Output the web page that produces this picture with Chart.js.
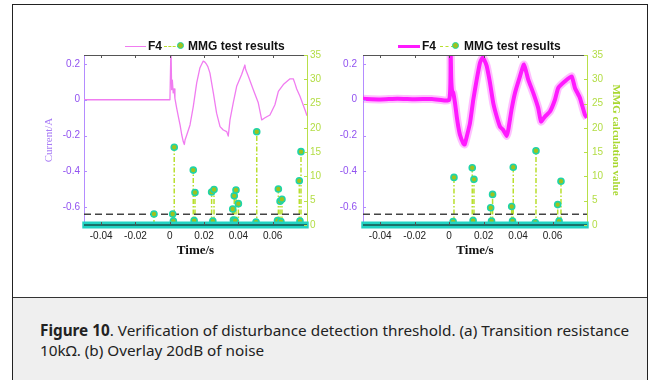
<!DOCTYPE html>
<html>
<head>
<meta charset="utf-8">
<script src="https://cdn.jsdelivr.net/npm/chart.js@4.4.0/dist/chart.umd.min.js"></script>
<style>
    html, body { margin: 0; padding: 0; background: #fff; }
    #fig { position: relative; width: 656px; height: 380px; overflow: hidden; background: #fff; }
    #box { position: absolute; left: 12px; top: 4px; width: 636px; height: 400px; border: 1.5px solid #222; box-sizing: border-box; }
    #cap { position: absolute; left: 0; top: 292px; right: 0; height: 120px; background: #efefef; border-top: 1px solid #333;
           font-family: "Noto Sans", sans-serif; font-size: 15.3px; line-height: 20px; color: #222; padding: 22px 6px 0 27px; box-sizing: border-box; }
    canvas { position: absolute; }
    #c1 { left: 14px; top: 30px; }
    #c2 { left: 334px; top: 30px; }
    .leg { position: absolute; height: 14px; font-family: "Liberation Sans", Arial, sans-serif; font-size: 12px; line-height: 14px; color: #111; white-space: nowrap; }
    .ln { position: absolute; top: 7px; height: 0; }
    .f4 { border-top: 1.5px solid #f07cf0; }
    .mmg { border-top: 1.5px dashed #b9df2e; }
    .dot { position: absolute; top: 3px; width: 5px; height: 5px; border-radius: 50%; background: #9fc21c; border: 1.5px solid #1fd4a8; }
    .tx { position: absolute; top: 0; font-weight: bold; }
</style>
</head>
<body>
<div id="fig">
    <div id="box">
        <div id="cap"><b>Figure 10</b>. Verification of disturbance detection threshold. (a) Transition resistance 10kΩ. (b) Overlay 20dB of noise</div>
    </div>
    <canvas id="c1" width="316" height="230"></canvas>
    <canvas id="c2" width="310" height="230"></canvas>

    <!-- legends -->
    <div class="leg" style="left:0;top:39px;width:330px;">
        <span class="ln f4" style="left:125px;width:21px;"></span><span class="tx" style="left:148px;font-weight:600;">F4</span>
        <span class="ln mmg" style="left:164px;width:16px;"></span><span class="dot" style="left:177px;"></span>
        <span class="tx" style="left:188px;">MMG test results</span>
    </div>
    <div class="leg" style="left:0;top:39px;width:656px;">
        <span class="ln f4" style="left:398px;width:22px;border-top:3px solid #ff1aff;top:6px;"></span><span class="tx" style="left:422px;font-weight:600;">F4</span>
        <span class="ln mmg" style="left:440px;width:14px;"></span><span class="dot" style="left:452px;"></span>
        <span class="tx" style="left:464px;">MMG test results</span>
    </div>
</div>

<script>
    // axis ticks
    const xTicks = [-0.04, -0.02, 0, 0.02, 0.04, 0.06];
    const xLabels = ['-0.04', '-0.02', '0', '0.02', '0.04', '0.06'];
    const yTicks = [0.2, 0, -0.2, -0.4, -0.6];
    const yLabels = ['0.2', '0', '-0.2', '-0.4', '-0.6'];
    const y2Ticks = [0, 5, 10, 15, 20, 25, 30, 35];
    const threshold = 2.2;

    // (a) F4 current, 10kOhm
    const tA = [-0.05, 0.0001, 0.0007, 0.0011, 0.0015, 0.002, 0.0025, 0.003, 0.004, 0.005, 0.006, 0.007, 0.0079, 0.0085,
        0.0089, 0.0099, 0.0118, 0.0137, 0.0157, 0.0176, 0.0195, 0.0205, 0.0215, 0.0222, 0.0234, 0.0254, 0.0273, 0.0293,
        0.0312, 0.0332, 0.0341, 0.0351, 0.037, 0.039, 0.0419, 0.0438, 0.0442, 0.0458, 0.0487, 0.0516, 0.0536, 0.0555,
        0.0584, 0.0613, 0.0633, 0.0662, 0.0701, 0.072, 0.073, 0.074, 0.0759, 0.0788, 0.08];
    const f4A = [0, 0, 0.3, 0.056, 0.11, 0.038, 0.06, 0.007, -0.045, -0.094, -0.141, -0.197, -0.235, -0.25,
        -0.225, -0.197, -0.141, -0.038, 0.094, 0.179, 0.216, 0.21, 0.197, 0.185, 0.15, 0.038, -0.075, -0.15,
        -0.169, -0.178, -0.203, -0.113, -0.017, 0.075, 0.141, 0.194, 0.17, 0.131, 0.056, -0.017, -0.113, -0.101,
        -0.085, -0.028, 0.047, 0.085, 0.117, 0.117, 0.09, 0.06, 0.019, -0.056, -0.09];
    const stemTA = [-0.0092, 0.0017, 0.0021, 0.0026, 0.0137, 0.0142, 0.0147, 0.0244, 0.0251, 0.0258, 0.0367, 0.0371,
        0.0376, 0.0381, 0.0386, 0.04, 0.0503, 0.0507, 0.0628, 0.0633, 0.0643, 0.0648, 0.0654, 0.0755, 0.0759, 0.0765];
    const stemVA = [2.25, 2.25, 0.8, 16.0, 11.3, 0.9, 6.7, 6.8, 0.8, 7.3, 3.3, 1.0,
        6.0, 0.9, 7.2, 4.4, 0.6, 19.2, 0.9, 7.4, 4.9, 0.7, 5.3, 9.1, 0.8, 15.1];

    // (b) F4 current with 20dB noise (band centre)
    const tB = [-0.05, -0.04, -0.03, -0.02, -0.01, 0.0,
        0.0008, 0.0012, 0.0017, 0.0024, 0.0034, 0.0044, 0.0053, 0.0063, 0.0082, 0.009, 0.0102, 0.0121, 0.014, 0.016,
        0.0179, 0.0194, 0.0205, 0.0218, 0.0237, 0.0256, 0.0276, 0.0295, 0.0314, 0.0334, 0.0343, 0.0362, 0.0382,
        0.0411, 0.0434, 0.0459, 0.0488, 0.0517, 0.0533, 0.0556, 0.0585, 0.0614, 0.0633, 0.0672, 0.0711, 0.073,
        0.0759, 0.0788, 0.08];
    const f4B = [0.005, 0.002, 0.006, 0.003, 0.004, 0.0,
        0.3, 0.12, 0.05, 0.038, -0.019, -0.094, -0.15, -0.197, -0.244, -0.25, -0.207, -0.13, 0.0, 0.113,
        0.207, 0.235, 0.22, 0.188, 0.094, -0.019, -0.094, -0.15, -0.169, -0.203, -0.169, -0.056, 0.038,
        0.131, 0.197, 0.113, 0.038, -0.047, -0.122, -0.094, -0.066, 0.0, 0.066, 0.103, 0.131, 0.066,
        0.01, -0.085, -0.1];
    const stemTB = [0.0023, 0.0028, 0.0134, 0.0139, 0.0144, 0.0241, 0.0246, 0.0252, 0.0363, 0.0368, 0.0372,
        0.05, 0.0504, 0.063, 0.0638, 0.0649];
    const stemVB = [0.7, 9.8, 11.8, 0.9, 9.4, 3.55, 0.8, 6.3, 3.8, 0.8, 11.9,
        0.5, 15.3, 4.2, 0.8, 9.0];

    function pares(ts, vs) {
        return ts.map(function (t, i) { return { x: t, y: vs[i] }; });
    }

    function tallos(ts, vs) {
        var out = [];
        ts.forEach(function (t, i) {
            out.push({ x: t, y: 0 }, { x: t, y: vs[i] }, { x: t, y: null });
        });
        return out;
    }

    // inward tick marks + top frame line, MATLAB style
    const marcoPlugin = {
        id: 'marco',
        afterDatasetsDraw: function (chart) {
            var ctx = chart.ctx, a = chart.chartArea, s = chart.scales;
            ctx.save();
            ctx.lineWidth = 1;
            ctx.strokeStyle = '#555';
            ctx.beginPath();
            ctx.moveTo(a.left, a.top + 0.5); ctx.lineTo(a.right, a.top + 0.5);
            xTicks.forEach(function (v) {
                var px = Math.round(s.x.getPixelForValue(v)) + 0.5;
                ctx.moveTo(px, a.top); ctx.lineTo(px, a.top + 3);
                ctx.moveTo(px, a.bottom); ctx.lineTo(px, a.bottom - 3);
            });
            ctx.stroke();
            ctx.strokeStyle = '#b48cff';
            ctx.beginPath();
            yTicks.forEach(function (v) {
                var py = Math.round(s.y.getPixelForValue(v)) + 0.5;
                ctx.moveTo(a.left, py); ctx.lineTo(a.left + 3, py);
            });
            ctx.stroke();
            ctx.strokeStyle = '#b8e04a';
            ctx.beginPath();
            y2Ticks.forEach(function (v) {
                var py = Math.round(s.y1.getPixelForValue(v)) + 0.5;
                ctx.moveTo(a.right, py); ctx.lineTo(a.right - 3, py);
            });
            ctx.stroke();
            ctx.restore();
        }
    };

    function crearGrafico(id, opts) {
        var ctx = document.getElementById(id).getContext('2d');
        var datasets = [
            {
                data: pares(opts.t, opts.f4), yAxisID: 'y', showLine: true, pointRadius: 0, tension: opts.tension,
                borderColor: opts.f4Color, borderWidth: opts.f4Width, borderJoinStyle: 'round', order: 0
            },
            {
                data: pares(opts.stemT, opts.stemV), yAxisID: 'y1', showLine: false, pointRadius: 3,
                pointBackgroundColor: '#9fc21c', pointBorderColor: '#1fd4a8', pointBorderWidth: 1.6, order: 3
            },
            {
                data: [{ x: -0.05, y: 0 }, { x: 0.08, y: 0 }], yAxisID: 'y1', showLine: true, pointRadius: 0,
                borderColor: '#111', borderWidth: 1, clip: 8, order: 1
            },
            {
                data: [{ x: -0.051, y: 0 }, { x: 0.081, y: 0 }], yAxisID: 'y1', showLine: true, pointRadius: 0,
                borderColor: '#22d3c3', borderWidth: 7, clip: 8, order: 2
            },
            {
                data: [{ x: -0.05, y: threshold }, { x: 0.08, y: threshold }], yAxisID: 'y1', showLine: true,
                pointRadius: 0, borderColor: '#444', borderWidth: 1.5, borderDash: [7, 4], order: 4
            },
            {
                data: tallos(opts.stemT, opts.stemV), yAxisID: 'y1', showLine: true, pointRadius: 0, spanGaps: false,
                borderColor: '#b9df2e', borderWidth: 1.5, borderDash: [5, 2, 1.5, 2], order: 5
            }
        ];
        // fuzzy halo for the noisy trace
        if (opts.halo) {
            datasets.push({
                data: pares(opts.t, opts.f4), yAxisID: 'y', showLine: true, pointRadius: 0, tension: opts.tension,
                borderColor: 'rgba(255, 40, 255, 0.3)', borderWidth: opts.halo, borderJoinStyle: 'round', order: 0.5
            });
        }

        return new Chart(ctx, {
            type: 'scatter',
            data: { datasets: datasets },
            plugins: [marcoPlugin],
            options: {
                responsive: false,
                animation: false,
                devicePixelRatio: 1,
                layout: { padding: opts.padding },
                plugins: { legend: { display: false }, tooltip: { enabled: false } },
                scales: {
                    x: {
                        type: 'linear', min: -0.05, max: 0.08,
                        afterBuildTicks: function (scale) { scale.ticks = xTicks.map(function (v) { return { value: v }; }); },
                        afterFit: function (scale) { scale.height = 35; },
                        ticks: {
                            callback: function (value, index) { return xLabels[index]; },
                            font: { family: 'Liberation Sans', size: 10 }, color: '#222', padding: 5, maxRotation: 0, autoSkip: false
                        },
                        grid: { display: true, drawOnChartArea: false, drawTicks: false },
                        border: { display: false },
                        title: {
                            display: true, text: 'Time/s', color: '#111', padding: { top: 0, bottom: 2 },
                            font: { family: 'Liberation Serif', size: 13, weight: 'bold' }
                        }
                    },
                    y: {
                        type: 'linear', position: 'left', min: -0.7, max: 0.25,
                        afterBuildTicks: function (scale) { scale.ticks = yTicks.map(function (v) { return { value: v }; }); },
                        afterFit: function (scale) { scale.width = opts.leftWidth; },
                        ticks: {
                            callback: function (value, index) { return yLabels[index]; },
                            font: { family: 'Liberation Sans', size: 10 }, color: '#9152f0', padding: opts.leftPad
                        },
                        grid: { display: true, drawOnChartArea: false, drawTicks: false },
                        border: { display: true, color: '#b48cff', width: 1 },
                        title: {
                            display: opts.leftTitle, text: 'Current/A', color: '#a87cf5', padding: { top: 3, bottom: 0 },
                            font: { family: 'Liberation Serif', size: 11 }
                        }
                    },
                    y1: {
                        type: 'linear', position: 'right', min: 0, max: 35,
                        afterBuildTicks: function (scale) { scale.ticks = y2Ticks.map(function (v) { return { value: v }; }); },
                        afterFit: function (scale) { scale.width = opts.rightWidth; },
                        ticks: {
                            callback: function (value) { return String(value); },
                            font: { family: 'Liberation Sans', size: 10 }, color: '#b3dd45', padding: opts.rightPad
                        },
                        grid: { display: true, drawOnChartArea: false, drawTicks: false },
                        border: { display: true, color: '#b8e04a', width: 1 },
                        title: {
                            display: opts.rightTitle, text: 'MMG calculation value', color: '#a8d830', padding: { top: 2, bottom: 0 },
                            font: { family: 'Liberation Serif', size: 11, weight: 'bold' }
                        }
                    }
                }
            }
        });
    }

    crearGrafico('c1', {
        t: tA, f4: f4A, stemT: stemTA, stemV: stemVA, f4Color: '#f07cf0', f4Width: 1.3, tension: 0, halo: 0,
        padding: { left: 26, top: 25, right: 0, bottom: 0 },
        leftWidth: 44, leftPad: 4, leftTitle: true, rightWidth: 23, rightPad: 3, rightTitle: false
    });

    crearGrafico('c2', {
        t: tB, f4: f4B, stemT: stemTB, stemV: stemVB, f4Color: '#ff1aff', f4Width: 4, tension: 0.15, halo: 8,
        padding: { left: 0, top: 25, right: 20, bottom: 0 },
        leftWidth: 29, leftPad: 6, leftTitle: false, rightWidth: 37, rightPad: 5, rightTitle: true
    });
</script>
</body>
</html>
